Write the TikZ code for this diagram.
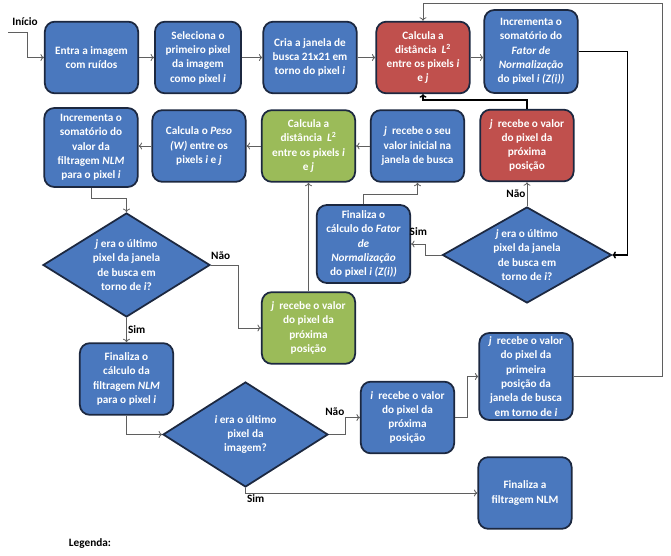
\documentclass[tikz,border=0pt]{standalone}
\usepackage{fontspec}
\setmainfont{Carlito}
\usepackage{tikz}
\usetikzlibrary{calc}
\usetikzlibrary{positioning}
\usetikzlibrary{shapes.geometric}
\usetikzlibrary{arrows.meta}

\definecolor{azul}{RGB}{74,120,190}
\definecolor{borda}{RGB}{28,40,64}
\definecolor{vermelho}{RGB}{192,80,77}
\definecolor{verde}{RGB}{155,187,89}
\definecolor{linha}{RGB}{95,95,95}

\begin{document}
\begin{tikzpicture}[x=0.03cm,y=-0.03cm,
  caixa/.style={draw=borda, fill=azul, line width=1.5pt, rounded corners=0.3cm,
    minimum width=2.8cm, minimum height=2.15cm, inner sep=1pt, align=center,
    text=white, font=\fontsize{9.6}{12.2}\selectfont\bfseries},
  decisao/.style={diamond, draw=borda, fill=azul, line width=1.5pt, aspect=1.7,
    inner sep=0pt, align=center, text=white,
    font=\fontsize{9.6}{12.2}\selectfont\bfseries},
  rotulo/.style={font=\fontsize{9.6}{12.2}\selectfont\bfseries, inner sep=1pt},
  seta/.style={draw=linha, line width=0.7pt, -{To[length=3pt,width=6pt]}},
  retorno/.style={seta, draw=black, line width=1.3pt}]
\useasboundingbox (0,0) rectangle (671,555);

% primeira linha
\node[caixa] (entra) at (91.5,57.5) {Entra a imagem\\com ruídos};
\node[caixa, minimum width=2.58cm] (seleciona) at (198,57.5)
  {Seleciona o\\primeiro pixel\\da imagem\\como pixel \textit{i}};
\node[caixa] (criajanela) at (310,57.5)
  {Cria a janela de\\busca 21x21 em\\torno do pixel \textit{i}};
\node[caixa, fill=vermelho] (distL) at (423,57.5)
  {Calcula a\\distância \ \textit{L}\textsuperscript{2}\\entre os pixels \textit{i}\\e \textit{j}};
\node[caixa, minimum height=2.49cm] (somfator) at (531,51.5)
  {Incrementa o\\somatório do\\\textit{Fator de}\\\textit{Normalização}\\do pixel \textit{i (Z(i))}};

% segunda linha
\node[caixa, minimum height=2.37cm] (somnlm) at (91,147.5)
  {Incrementa o\\somatório do\\valor da\\filtragem \textit{NLM}\\para o pixel \textit{i}};
\node[caixa] (peso) at (199,146)
  {Calcula o \textit{Peso}\\\textit{(W)} entre os\\pixels \textit{i} e \textit{j}};
\node[caixa, fill=verde] (distverde) at (308.5,146)
  {Calcula a\\distância \ \textit{L}\textsuperscript{2}\\entre os pixels \textit{i}\\e \textit{j}};
\node[caixa] (inicj) at (417.5,146)
  {\textit{j} \ recebe o seu\\valor inicial na\\janela de busca};
\node[caixa, fill=vermelho] (proxj) at (527,145.5)
  {\textit{j} \ recebe o valor\\do pixel da\\próxima\\posição};

% meio
\node[caixa, minimum height=2.34cm] (finfator) at (363.5,244)
  {Finaliza o\\cálculo do \textit{Fator}\\\textit{de}\\\textit{Normalização}\\do pixel \textit{i (Z(i))}};
\node[decisao, minimum width=5.07cm, minimum height=2.88cm] (ultjan) at (527,255)
  {\textit{j} era o último\\pixel da janela\\de busca em\\torno de \textit{i}?};
\node[decisao, minimum width=5.01cm, minimum height=3.12cm] (ultjan2) at (126.5,265)
  {\textit{j} era o último\\pixel da janela\\de busca em\\torno de \textit{i}?};
\node[caixa, fill=verde] (proxj2) at (308.5,328)
  {\textit{j} \ recebe o valor\\do pixel da\\próxima\\posição};

% parte de baixo
\node[caixa] (finnlm) at (126.5,379)
  {Finaliza o\\cálculo da\\filtragem \textit{NLM}\\para o pixel \textit{i}};
\node[decisao, minimum width=4.95cm, minimum height=3.15cm] (ultimg) at (245.5,434.5)
  {\textit{i} era o último\\pixel da\\imagem?};
\node[caixa] (proxi) at (407.5,417.5)
  {\textit{i} \ recebe o valor\\do pixel da\\próxima\\posição};
\node[caixa, minimum height=2.61cm] (primj) at (526,376.5)
  {\textit{j} \ recebe o valor\\do pixel da\\primeira\\posição da\\janela de busca\\em torno de \textit{i}};
\node[caixa] (finaliza) at (525,493) {Finaliza a\\filtragem NLM};

\node[rotulo] (lblinicio) at (25,22) {Início};
\node[rotulo] (legenda) at (90,543) {Legenda:};
\coordinate (inicio) at (8,32);
\coordinate (cantosup) at (662,3);

% ligacoes
\draw[seta] (inicio) -- ++(19,0) |- (entra.west);
\draw[seta] (entra) -- (seleciona);
\draw[seta] (seleciona) -- (criajanela);
\draw[seta] (criajanela) -- (distL);
\draw[seta] (distL.east) -- (distL.east -| somfator.west);
\draw[retorno] (somfator.east) -- ++(49,0) |- (ultjan.east);
\draw[seta] (ultjan.north) -- (proxj.south) node[rotulo, midway, left] {Não};
\draw[retorno] (proxj.north) -- ++(0,-9) -| (distL.south);
\draw[seta] (ultjan.west) -- ++(-16,0) |- (finfator.east)
  node[rotulo, pos=0.75, above=6pt] {Sim};
\draw[seta] (finfator.north) -- ++(0,-10) -| (inicj.south);
\draw[seta] (inicj) -- (distverde);
\draw[seta] (distverde) -- (peso);
\draw[seta] (peso.west) -- (peso.west -| somnlm.east);
\draw[seta] (somnlm.south) -- ++(0,11) -| (ultjan2.north);
\draw[seta] (ultjan2.east) -- ++(28,0) node[rotulo, pos=0.35, above=3pt] {Não}
  |- (proxj2.west);
\draw[seta] (proxj2) -- (distverde);
\draw[seta] (ultjan2.south) -- (finnlm.north) node[rotulo, midway, right] {Sim};
\draw[seta] (finnlm.south) |- (ultimg.west);
\draw[seta] (ultimg.east) -- ++(17,0) |- (proxi.west)
  node[rotulo, pos=0.5, above left] {Não};
\draw[seta] (proxi.east) -- ++(12,0) |- (primj.west);
\draw[seta] (primj.east) -| (cantosup) -| (distL.north);
\draw[seta] (ultimg.south) |- (finaliza.west)
  node[rotulo, pos=0.5, below right] {Sim};
\end{tikzpicture}
\end{document}
